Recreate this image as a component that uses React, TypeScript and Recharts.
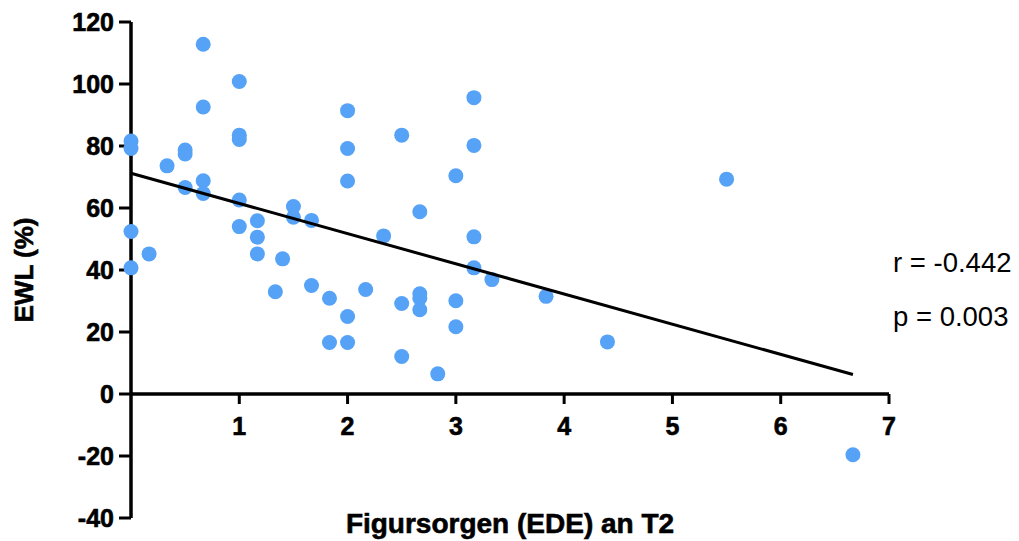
import React from 'react';
import {
  ScatterChart,
  Scatter,
  XAxis,
  YAxis,
  ReferenceLine,
  ReferenceDot,
  Customized,
} from 'recharts';

// Figursorgen (EDE) score at T2 vs. excess weight loss
const ewlX = [
  0, 0, 0, 0, 0.167, 0.333, 0.5, 0.5, 0.5, 0.667, 0.667, 0.667, 0.667,
  1, 1, 1, 1, 1, 1.167, 1.167, 1.167, 1.333, 1.4, 1.5, 1.5, 1.667, 1.667,
  1.833, 1.833, 2, 2, 2, 2, 2, 2.167, 2.333, 2.5, 2.5, 2.5,
  2.667, 2.667, 2.667, 2.667, 2.833, 3, 3, 3, 3.167, 3.167, 3.167, 3.167,
  3.333, 3.833, 4.4, 5.5, 6.667,
];
const ewlY = [
  81.6, 79.2, 52.4, 40.7, 45.2, 73.6, 78.7, 77.4, 66.6, 112.8, 92.6, 68.8, 64.7,
  100.8, 83.5, 82.1, 62.6, 54.0, 55.9, 50.6, 45.2, 33.0, 43.6, 60.5, 57.0, 56.0, 35.0,
  30.9, 16.6, 91.4, 79.2, 68.7, 25.0, 16.6, 33.7, 51.0, 83.5, 29.2, 12.1,
  58.8, 32.3, 30.9, 27.2, 6.5, 70.4, 30.1, 21.7, 95.6, 80.2, 50.7, 40.7,
  36.9, 31.5, 16.8, 69.3, -19.6,
];

// regression line end points
const trendX = [0, 6.667];
const trendY = [71.2, 6.3];

const xTicks = [1, 2, 3, 4, 5, 6, 7];
const yTicks = [-40, -20, 0, 20, 40, 60, 80, 100, 120];

const statLines = ['r = -0.442', 'p = 0.003'];

const points = ewlX.map((x, i) => ({ x, y: ewlY[i] }));
const trend = trendX.map((x, i) => ({ x, y: trendY[i] }));

const FONT = '"Liberation Sans", Arial, sans-serif';
const boldText = { fontFamily: FONT, fontWeight: 'bold', fill: '#000', stroke: '#000', strokeWidth: 0.6 };

const XTickMark = (props: any) => {
  const { cx, cy, value } = props;
  return (
    <g>
      <line x1={cx} y1={cy} x2={cx} y2={cy + 10} stroke="#000" strokeWidth={3} />
      <text x={cx} y={cy + 41} textAnchor="middle" fontSize={25} style={boldText}>
        {value}
      </text>
    </g>
  );
};

const Stats = () => (
  <g>
    {statLines.map((s, i) => (
      <text key={s} x={893} y={272 + i * 54} fontFamily={FONT} fontSize={27.5} fill="#000">
        {s}
      </text>
    ))}
  </g>
);

const App: React.FC = () => {
  return (
    <div style={{ position: 'absolute', left: 0, top: 0, fontFamily: FONT }}>
      <ScatterChart width={1019} height={541} margin={{ top: 22, right: 130, bottom: 0, left: 0 }}>
        <XAxis
          type="number"
          dataKey="x"
          domain={[0, 7]}
          ticks={xTicks}
          height={23}
          axisLine={false}
          tickLine={false}
          tick={false}
          label={{
            value: 'Figursorgen (EDE) an T2',
            position: 'insideBottom',
            offset: 8,
            style: { ...boldText, fontSize: 28 },
          }}
        />
        <YAxis
          type="number"
          dataKey="y"
          domain={[-40, 120]}
          ticks={yTicks}
          width={131}
          axisLine={{ stroke: '#000', strokeWidth: 3.5 }}
          tickLine={{ stroke: '#000', strokeWidth: 3 }}
          tickSize={12}
          tickMargin={5}
          tick={{ ...boldText, fontSize: 25 }}
          label={{
            value: 'EWL (%)',
            angle: -90,
            position: 'insideLeft',
            offset: 24,
            style: { ...boldText, textAnchor: 'middle', fontSize: 26 },
          }}
        />
        <ReferenceLine y={0} stroke="#000" strokeWidth={3.5} />
        {xTicks.map((t) => (
          <ReferenceDot
            key={t}
            x={t}
            y={0}
            r={0}
            shape={(p: any) => <XTickMark {...p} value={t} />}
          />
        ))}
        <Scatter data={points} fill="#55a2f6" isAnimationActive={false} shape={(p: any) => (
          <circle cx={p.cx} cy={p.cy} r={7.5} fill="#55a2f6" />
        )} />
        <Scatter
          data={trend}
          line={{ stroke: '#000', strokeWidth: 3 }}
          shape={() => <g />}
          isAnimationActive={false}
        />
        <Customized component={Stats} />
      </ScatterChart>
    </div>
  );
};

export default App;
